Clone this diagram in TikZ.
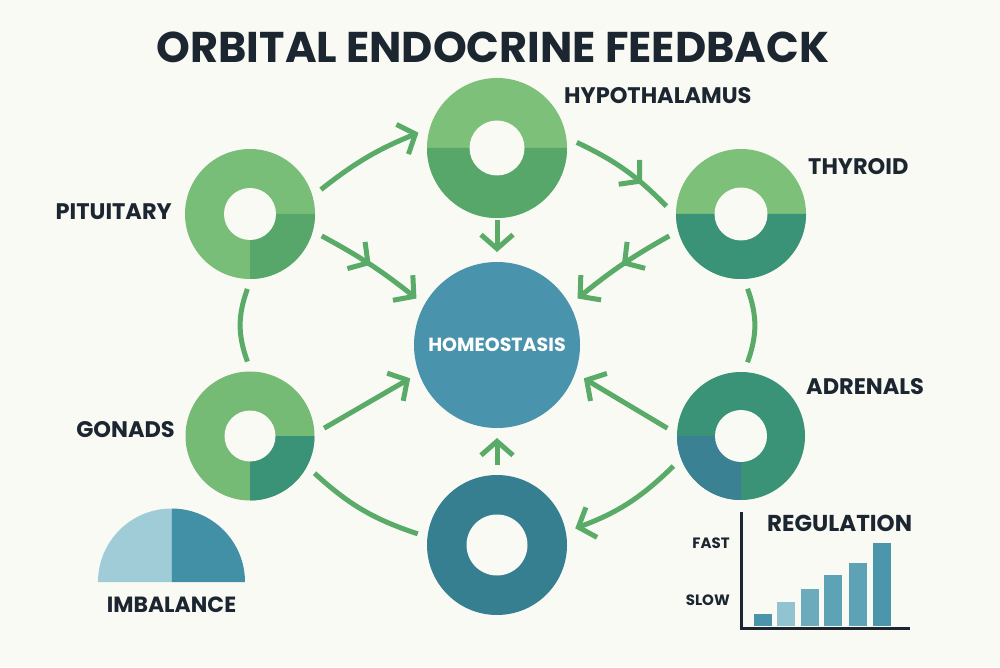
\documentclass[tikz,border=0pt]{standalone}
\usepackage{fontspec}
\setmainfont{Poppins}
\usepackage{tikz}
\usetikzlibrary{arrows.meta,positioning,calc,decorations.markings}
\definecolor{bgpaper}{HTML}{FAFAF5}
\definecolor{inkdark}{HTML}{1B2631}
\definecolor{leafgreen}{HTML}{7CC079}
\definecolor{midgreen}{HTML}{58A76A}
\definecolor{seagreen}{HTML}{3A9377}
\definecolor{tealblue}{HTML}{3A8193}
\definecolor{deepteal}{HTML}{357F90}
\definecolor{homeoblue}{HTML}{4A93AC}
\definecolor{arrowgreen}{HTML}{5AAA68}
\definecolor{palecyan}{HTML}{A0CCD7}
\definecolor{steelcyan}{HTML}{4290A6}
\tikzset{barb/.tip={Straight Barb[length=14pt,width=32pt]}}

\begin{document}
\begin{tikzpicture}[x=1pt, y=1pt,
  ring/.style={circle, inner sep=0pt, outer sep=10pt, minimum size=#1},
  hole/.style={circle, inner sep=0pt, fill=bgpaper, minimum size=#1},
  lbl/.style={font=\fontsize{22.5}{26}\selectfont\bfseries, text=inkdark, inner sep=0pt},
  axlbl/.style={font=\fontsize{15}{18}\selectfont\bfseries, text=inkdark, inner sep=0pt},
  flow/.style={draw=arrowgreen, line width=5pt},
  arr/.style={flow, -barb},
  midarr/.style={postaction={decorate},
    decoration={markings, mark=at position #1 with {\arrow{barb}}}}]
\fill[bgpaper] (0,0) rectangle (1000,667);
\useasboundingbox (0,0) rectangle (1000,667);
\node[font=\fontsize{43}{50}\selectfont\bfseries, text=inkdark] (title) at (493,620)
  {ORBITAL ENDOCRINE FEEDBACK};
% glands
\node[ring=140pt, fill=leafgreen] (hypo) at (497,519) {};
\fill[midgreen] (hypo.center) -- +(0:70) arc[start angle=0, end angle=-180, radius=70] -- cycle;
\node[hole=55pt] at (hypo) {};
\node[ring=130pt, fill=leafgreen!92!midgreen] (pit) at (250,453) {};
\fill[midgreen] (pit.center) -- +(0:65) arc[start angle=0, end angle=-90, radius=65] -- cycle;
\node[hole=52pt] at (pit) {};
\node[ring=130pt, fill=leafgreen] (thy) at (741,453) {};
\fill[seagreen] (thy.center) -- +(0:65) arc[start angle=0, end angle=-180, radius=65] -- cycle;
\node[hole=53pt] at (thy) {};
\node[ring=129pt, fill=leafgreen!80!midgreen] (gon) at (250,231) {};
\fill[seagreen] (gon.center) -- +(0:64.5) arc[start angle=0, end angle=-90, radius=64.5] -- cycle;
\node[hole=51pt] at (gon) {};
\node[ring=128pt, fill=seagreen] (adr) at (741,231) {};
\fill[tealblue] (adr.center) -- +(180:64) arc[start angle=180, end angle=270, radius=64] -- cycle;
\node[hole=52pt] at (adr) {};
\node[ring=140pt, fill=deepteal] (bot) at (497,122) {};
\node[hole=61pt] at (bot) {};
\node[circle, inner sep=0pt, outer sep=10pt, minimum size=166pt, fill=homeoblue,
  text=white, font=\fontsize{19}{22}\selectfont\bfseries] (homeo) at (497,322) {HOMEOSTASIS};
% gland labels
\node[lbl, anchor=west] (hypoLbl) at (564,571) {HYPOTHALAMUS};
\node[lbl, anchor=east] (pitLbl) at (172,455) {PITUITARY};
\node[lbl, anchor=west] (thyLbl) at (808,500) {THYROID};
\node[lbl, anchor=east] (gonLbl) at (175,237) {GONADS};
\node[lbl, anchor=west] (adrLbl) at (806,280) {ADRENALS};
% feedback loop
\draw[arr] (pit.19) to[bend left=8] (hypo.169);
\draw[flow, midarr=0.7] (hypo.4) to[bend left=10] (thy.174);
\draw[flow] (pit.-92) to[bend right=20] (gon.92);
\draw[flow] (thy.-85) to[bend left=20] (adr.85);
\draw[flow] (gon.-30) to[bend right=12] (bot.172);
\draw[arr] (adr.204) to[bend left=12] (bot.12);
% into homeostasis
\draw[arr, midarr=0.5] (pit.-17) to[bend left=5] (homeo.150);
\draw[arr, midarr=0.5] (thy.197) to[bend right=5] (homeo.30);
\draw[arr, shorten <=-8pt] (hypo.south) -- (homeo.north);
\draw[arr] (gon.6) -- (homeo.201);
\draw[arr] (adr.174) -- (homeo.-21);
\draw[arr] (bot.north) -- (homeo.south);
% imbalance
\coordinate (imb) at (171.5,85);
\fill[palecyan] (imb) -- ++(-73.5,0) arc[start angle=180, end angle=90, radius=73.5] -- cycle;
\fill[steelcyan] (imb) -- ++(0,73.5) arc[start angle=90, end angle=0, radius=73.5] -- cycle;
\node[lbl, font=\fontsize{22}{26}\selectfont\bfseries, below=15pt of imb] (imbLbl) {IMBALANCE};
% regulation chart
\coordinate (axtop) at (741,155);
\coordinate (axorg) at (741,39);
\coordinate (axend) at (910,39);
\foreach \bx/\bh/\bc in {754/12/steelcyan!95, 777/24/palecyan!85!steelcyan,
    801/37/palecyan!45!steelcyan, 824/51/palecyan!30!steelcyan,
    849/63/palecyan!30!steelcyan, 873/83/steelcyan!90!palecyan}
  \fill[\bc] (\bx,41) rectangle ++(18,\bh);
\draw[inkdark, line width=3pt] (axtop) -- (axorg) -- (axend);
\node[axlbl, left=11pt of axtop, yshift=-31pt] (fastLbl) {FAST};
\node[axlbl, left=11pt of axorg, yshift=28pt] (slowLbl) {SLOW};
\node[lbl, font=\fontsize{23}{26}\selectfont\bfseries, anchor=west] (regLbl) at (767,144) {REGULATION};
\end{tikzpicture}
\end{document}
